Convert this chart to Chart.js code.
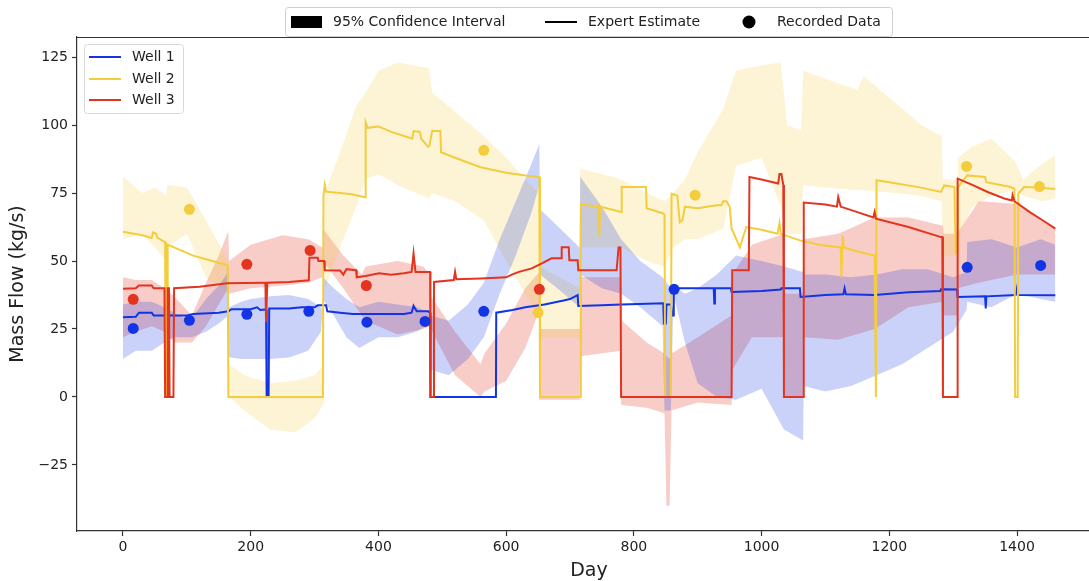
<!DOCTYPE html>
<html>
<head>
<meta charset="utf-8">
<script src="https://cdn.jsdelivr.net/npm/chart.js@4.4.1/dist/chart.umd.min.js"></script>
<style>
html, body { margin: 0; padding: 0; background: #fff; }
#wrap { width: 1089px; height: 581px; }
</style>
</head>
<body>
<div id="wrap"><canvas id="chart" width="1089" height="581"></canvas></div>
<script>
// axis ticks
var xTicks = [0, 200, 400, 600, 800, 1000, 1200, 1400];
var yTicks = [-25, 0, 25, 50, 75, 100, 125];

var wellNames = ['Well 1', 'Well 2', 'Well 3'];

// Well 1 - expert estimate
var well1Day = [0, 20, 25, 45, 48, 100, 110, 150, 165, 170, 200, 210, 215, 224, 225, 228, 229, 260, 280, 300, 305, 318, 320, 340, 360, 400, 440, 452, 455, 460, 478, 481, 481.5, 584, 584.5, 610, 630, 660, 690, 700, 712, 713, 750, 780, 820, 846, 847, 850, 851, 858, 860, 862, 862.5, 925, 926, 927, 952, 953, 1000, 1030, 1031, 1060, 1061, 1100, 1128, 1130, 1132, 1177, 1230, 1280, 1281, 1306, 1307, 1350, 1351, 1352, 1398, 1400, 1402, 1460];
var well1Flow = [29.3, 29.5, 31, 31, 30, 30, 30.5, 31, 31.5, 32.3, 32.3, 33, 32, 32.2, 0, 0, 32.5, 32.5, 33, 33, 33.7, 33.7, 31.5, 31, 30.5, 30.5, 30.5, 31, 33.5, 31.5, 31.5, 31, 0, 0, 31, 32, 33, 34, 35.5, 36, 37.5, 33.5, 33.7, 34, 34.3, 34.5, 27, 27, 34, 34, 30, 30, 40, 40, 34.4, 40, 40, 38.6, 39, 39.5, 40, 40, 36.8, 37.5, 37.8, 40, 37.8, 37.5, 38.5, 39, 39.6, 39.5, 36.8, 37, 32.6, 37, 37.5, 40, 37.5, 37.4];

// Well 2 - expert estimate
var well2Day = [0, 30, 45, 47, 52, 54, 66, 67, 69, 70, 80, 110, 140, 164, 165, 313, 314, 316, 318, 340, 360, 379, 380, 383, 400, 420, 440, 453, 455, 465, 467, 478, 480, 484, 497, 498, 520, 560, 600, 630, 652, 653, 716, 717, 740, 745, 746, 747, 780, 781, 819, 820, 846, 848, 849, 858, 859, 868, 872, 876, 880, 900, 930, 937, 940, 945, 950, 953, 966, 976, 1000, 1025, 1028, 1030, 1060, 1090, 1124, 1125, 1127, 1129, 1150, 1177, 1179, 1180, 1200, 1250, 1281, 1286, 1302, 1304, 1306, 1307, 1322, 1350, 1352, 1390, 1396, 1397, 1401, 1402, 1411, 1430, 1460];
var well2Flow = [60.8, 59.5, 58.5, 60.5, 60, 58.5, 57, 0, 0, 56, 55, 52, 50, 48.4, 0, 0, 74, 78, 75.5, 75, 74.5, 73.5, 101, 99, 99.5, 97.5, 96, 95, 97.8, 97.5, 95, 92, 92.5, 97.8, 97.8, 90, 88, 84.5, 82.5, 81.5, 80.9, 0, 0, 71, 70, 70.5, 59, 70, 68, 77.2, 77.2, 69.4, 67.5, 67, 0, 0, 74.8, 74, 64.3, 65, 70, 69.4, 70.5, 70.5, 72, 72, 70, 62, 55, 62.5, 61.5, 60, 64, 60, 57.6, 56, 55, 44, 59.4, 55, 53.5, 52, 0, 79.7, 79, 77, 75.4, 77.8, 77.2, 53, 53, 77, 81.5, 80.9, 79, 77.2, 76.5, 0, 0, 74.8, 77.2, 77, 76.5];

// Well 3 - expert estimate
var well3Day = [0, 20, 25, 45, 48, 65, 66, 69, 70, 72, 73, 79, 80, 120, 163, 220, 223, 224, 226, 260, 291, 292, 305, 306, 315, 316, 340, 345, 350, 365, 366, 380, 401, 420, 440, 452, 455, 458, 475, 481, 481.5, 486, 487, 518, 520, 522, 560, 600, 609, 620, 640, 656, 671, 686, 687, 698, 699, 712, 713, 773, 776, 779, 780, 953, 954, 980, 981, 1000, 1026, 1028, 1031, 1034, 1035, 1065, 1066, 1100, 1118, 1120, 1124, 1125, 1150, 1175, 1177, 1179, 1230, 1281, 1283, 1284, 1306, 1307, 1330, 1354, 1380, 1392, 1393, 1396, 1420, 1440, 1460];
var well3Flow = [39.8, 40, 41, 41, 40, 40, 0, 0, 40, 40, 0, 0, 40, 40.5, 41.8, 42, 42, 27.6, 42, 42.3, 42.9, 51.2, 51.2, 50, 50, 46.6, 46.5, 45, 47, 46.6, 44, 44.5, 45.5, 45, 45.5, 46, 52.8, 46, 46, 46, 0, 0, 42.3, 43, 46, 43.3, 43.6, 44, 45, 46, 47.3, 49.1, 51, 51, 55.1, 55.1, 50.3, 50.3, 46.6, 46.6, 55, 55, 0, 0, 46.6, 46.6, 80.9, 80, 78.5, 82, 82, 78, 0, 0, 71.5, 70.8, 70, 73.5, 70, 69.9, 68, 66, 68, 65.6, 62.5, 58.8, 58.8, 0, 0, 80.3, 78, 75.4, 73, 72.3, 74.2, 72, 68, 65, 61.9];

// 95% confidence intervals
var well1BandDay = [0, 20, 45, 65, 80, 95, 108, 130, 150, 165, 166, 185, 200, 230, 260, 290, 310, 312, 313, 330, 350, 370, 400, 430, 460, 480, 482, 510, 540, 565, 590, 615, 640, 652, 653, 680, 715, 716, 750, 780, 810, 845, 848, 858, 862, 880, 900, 930, 960, 1000, 1035, 1065, 1066, 1100, 1140, 1180, 1220, 1260, 1300, 1321, 1322, 1360, 1400, 1437, 1460];
var well1Lo = [14, 17, 17, 20, 22, 22, 22, 24, 27, 30, 14.6, 14, 14, 14, 14.5, 17, 24, 30, 36, 30, 22, 18, 22, 22, 24, 27, 10, 8, 14, 22, 38, 52, 68, 78, 45, 40, 33, 45, 40, 38, 33, 26, -5, -5, 38, 20, 5, 0, -1, 3, -12, -16, 4, 2, 4, 8, 12, 18, 24, 32, 35, 33, 38, 36, 35];
var well1Hi = [34, 35, 35, 33, 31, 29, 29, 36, 41, 46, 33, 35, 36, 37, 37.5, 36, 33, 32, 44, 40, 36, 33, 35, 34, 33, 31, 30, 28, 34, 42, 58, 72, 86, 93, 69, 63, 55, 81, 70, 58, 50, 44, 43, 40, 41, 38, 40, 45, 52, 50, 48, 46, 45, 45, 44, 45, 47, 47, 44, 46, 57, 58, 55, 58, 56];

var well2BandDay = [0, 30, 50, 68, 69, 100, 130, 165, 166, 190, 230, 270, 300, 315, 316, 340, 365, 380, 400, 430, 479, 484, 520, 565, 600, 630, 652, 653, 715, 716, 750, 780, 820, 848, 862, 880, 900, 940, 960, 1000, 1030, 1040, 1062, 1065, 1100, 1150, 1160, 1210, 1250, 1282, 1284, 1306, 1307, 1330, 1360, 1396, 1410, 1440, 1460];
var well2Lo = [58, 60, 55, 50, 55, 60, 44, 38, 0, -5, -12, -13, -8, -2, 40, 55, 70, 80, 82, 78, 73, 75, 72, 65, 50, 38, 30, 22, 22, 55, 55, 55, 50, 48, 55, 58, 58, 62, 85, 88, 70, 60, 60, 78, 77, 76, 76, 75, 74, 72, 52, 52, 58, 70, 74, 76, 74, 72, 73];
var well2Hi = [81, 75, 77, 74, 78, 77, 65, 50, 12, 8, 5, 6, 8, 12, 75, 90, 107, 112, 120, 123, 121, 112, 105, 96, 88, 80, 75, 48, 40, 84, 82, 80, 75, 72, 75, 80, 90, 106, 120, 122, 123, 100, 98, 120, 117, 113, 118, 108, 100, 96, 80, 80, 88, 92, 95, 87, 80, 86, 89];

var well3BandDay = [0, 20, 45, 65, 80, 108, 130, 150, 165, 166, 200, 250, 290, 312, 313, 345, 374, 380, 430, 470, 481, 482, 520, 560, 566, 600, 630, 652, 653, 715, 716, 780, 781, 820, 848, 851, 856, 859, 900, 953, 954, 985, 1035, 1036, 1065, 1066, 1120, 1177, 1230, 1284, 1285, 1306, 1307, 1340, 1400, 1460];
var well3Lo = [22, 24, 26, 24, 20, 20, 26, 34, 40, 38, 40, 41, 42, 44, 50, 40, 30, 28, 23, 25, 26, 25, 8, 0, 2, 6, 18, 32, -1, -1, 15, 17, -3, -4, -6, -40, -40, -5, -2, -3, 10, 22, 22, 0, 0, 22, 21, 25, 33, 35, 30, 30, 40, 42, 45, 45];
var well3Hi = [44, 43, 43, 40, 37, 30, 42, 52, 61, 50, 56, 59.5, 58, 55, 62, 52, 45, 48, 50, 48, 45, 37, 24, 12, 16, 27, 40, 46, 25, 25, 44, 44, 28, 20, 16, 15, 14, 16, 22, 30, 45, 56, 60, 38, 38, 58, 60, 66, 66, 63, 60, 60, 60, 72, 71, 62];

// recorded data
var well1PtDay = [16, 104, 194, 291, 382, 473, 565, 863, 1322, 1437];
var well1PtFlow = [25.2, 28.2, 30.4, 31.5, 27.5, 27.8, 31.5, 39.6, 47.7, 48.4];
var well2PtDay = [104, 565, 650, 896, 1321, 1435];
var well2PtFlow = [69, 90.7, 31, 74.2, 84.8, 77.4];
var well3PtDay = [16, 194, 293, 381, 652];
var well3PtFlow = [35.9, 48.8, 53.9, 41, 39.6];

var lineColors = ['#1234e4', '#f3cd3e', '#e2341f'];
var bandColors = ['rgba(18, 52, 228, 0.22)', 'rgba(243, 205, 62, 0.22)', 'rgba(226, 52, 31, 0.25)'];
var FONT = "'DejaVu Sans', 'Liberation Sans', sans-serif";

function pts(days, vals) {
	var out = [];
	for (var i = 0; i < days.length; i++) {
		out.push({ x: days[i], y: vals[i] });
	}
	return out;
}

var lines = [[well1Day, well1Flow], [well2Day, well2Flow], [well3Day, well3Flow]];
var bands = [[well1BandDay, well1Lo, well1Hi], [well2BandDay, well2Lo, well2Hi], [well3BandDay, well3Lo, well3Hi]];
var dots = [[well1PtDay, well1PtFlow], [well2PtDay, well2PtFlow], [well3PtDay, well3PtFlow]];

var datasets = [];
bands.forEach(function (b, i) {
	datasets.push({
		label: wellNames[i] + ' lo', data: pts(b[0], b[1]),
		borderWidth: 0, pointRadius: 0, fill: false, order: 30
	});
	datasets.push({
		label: wellNames[i] + ' hi', data: pts(b[0], b[2]),
		borderWidth: 0, pointRadius: 0, fill: '-1', backgroundColor: bandColors[i], order: 30
	});
});
lines.forEach(function (l, i) {
	datasets.push({
		label: wellNames[i], data: pts(l[0], l[1]),
		borderColor: lineColors[i], borderWidth: 2, pointRadius: 0, fill: false,
		tension: 0, order: 12 - i
	});
});
dots.forEach(function (d, i) {
	datasets.push({
		label: wellNames[i] + ' data', data: pts(d[0], d[1]),
		showLine: false, pointRadius: 5.5, pointBorderWidth: 0,
		pointBackgroundColor: lineColors[i], order: 1
	});
});

var decorations = {
	id: 'decorations',
	afterDraw: function (chart) {
		var ctx = chart.ctx, a = chart.chartArea;
		ctx.save();
		// top spine
		ctx.strokeStyle = '#333';
		ctx.lineWidth = 1.2;
		ctx.beginPath();
		ctx.moveTo(a.left, a.top + 0.5);
		ctx.lineTo(a.right, a.top + 0.5);
		ctx.stroke();

		// axis titles
		ctx.fillStyle = '#222';
		ctx.font = '19px ' + FONT;
		ctx.textAlign = 'center';
		ctx.textBaseline = 'middle';
		ctx.fillText('Day', 589, 571);
		ctx.save();
		ctx.translate(18, 284);
		ctx.rotate(-Math.PI / 2);
		ctx.fillText('Mass Flow (kg/s)', 0, 0);
		ctx.restore();

		// outer legend
		ctx.fillStyle = 'rgba(255,255,255,0.85)';
		ctx.strokeStyle = '#d0d0d0';
		ctx.lineWidth = 1;
		ctx.beginPath();
		ctx.roundRect(285.5, 7.5, 607, 29, 3);
		ctx.fill();
		ctx.stroke();
		ctx.fillStyle = '#000';
		ctx.fillRect(291, 16, 31, 12);
		ctx.strokeStyle = '#000';
		ctx.lineWidth = 2;
		ctx.beginPath();
		ctx.moveTo(545, 22);
		ctx.lineTo(577, 22);
		ctx.stroke();
		ctx.beginPath();
		ctx.arc(749, 22, 6.5, 0, Math.PI * 2);
		ctx.fill();
		ctx.font = '14px ' + FONT;
		ctx.textAlign = 'left';
		ctx.fillStyle = '#222';
		ctx.fillText('95% Confidence Interval', 333, 22);
		ctx.fillText('Expert Estimate', 588, 22);
		ctx.fillText('Recorded Data', 777, 22);

		// inner legend
		ctx.fillStyle = 'rgba(255,255,255,0.85)';
		ctx.strokeStyle = '#d8d8d8';
		ctx.lineWidth = 1;
		ctx.beginPath();
		ctx.roundRect(84.5, 44.5, 99, 69, 3);
		ctx.fill();
		ctx.stroke();
		var ly = [57, 79, 100];
		for (var i = 0; i < 3; i++) {
			ctx.strokeStyle = lineColors[i];
			ctx.lineWidth = 2;
			ctx.beginPath();
			ctx.moveTo(89, ly[i]);
			ctx.lineTo(121, ly[i]);
			ctx.stroke();
			ctx.fillStyle = '#222';
			ctx.fillText(wellNames[i], 132, ly[i]);
		}
		ctx.restore();
	}
};

new Chart(document.getElementById('chart'), {
	type: 'line',
	data: { datasets: datasets },
	options: {
		responsive: false,
		animation: false,
		devicePixelRatio: 1,
		layout: { autoPadding: false, padding: { top: 37, left: 0, right: 0, bottom: 0 } },
		plugins: {
			legend: { display: false },
			tooltip: { enabled: false },
			filler: { propagate: false }
		},
		scales: {
			x: {
				type: 'linear', min: -72, max: 1512.7,
				afterBuildTicks: function (s) { s.ticks = xTicks.map(function (v) { return { value: v }; }); },
				afterFit: function (s) { s.height = 50; s.paddingLeft = 0; s.paddingRight = 0; },
				ticks: {
					autoSkip: false, maxRotation: 0, padding: 3, color: '#222', font: { family: FONT, size: 14 },
					callback: function (v) { return String(v); }
				},
				grid: { drawOnChartArea: false, drawTicks: true, tickLength: 5, tickColor: '#333', tickWidth: 1.2 },
				border: { display: true, color: '#333', width: 1.2 }
			},
			y: {
				type: 'linear', min: -49.3, max: 132.4,
				afterBuildTicks: function (s) { s.ticks = yTicks.map(function (v) { return { value: v }; }); },
				afterFit: function (s) { s.width = 77; s.paddingTop = 0; s.paddingBottom = 0; },
				ticks: {
					autoSkip: false, padding: 4, color: '#222', font: { family: FONT, size: 14 },
					callback: function (v) { return String(v).replace('-', '\u2212'); }
				},
				grid: { drawOnChartArea: false, drawTicks: true, tickLength: 5, tickColor: '#333', tickWidth: 1.2 },
				border: { display: true, color: '#333', width: 1.2 }
			}
		}
	},
	plugins: [decorations]
});
</script>
</body>
</html>
